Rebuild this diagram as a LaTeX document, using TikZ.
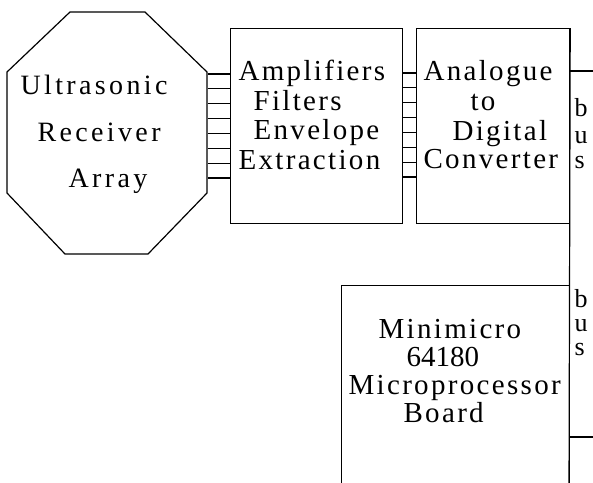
\documentclass[tikz,border=0pt]{standalone}
\usepackage{fontspec}
\newfontfamily\tw[LetterSpace=8]{Liberation Serif}
\newfontfamily\twwide[LetterSpace=12]{Liberation Serif}
\newfontfamily\twplain{Liberation Serif}
\begin{document}
\begin{tikzpicture}[x=1pt,y=-1pt,line width=1.2pt,
  box/.style={draw,inner sep=0pt,anchor=north west},
  txt/.style={anchor=base west,inner sep=0pt,font=\tw\fontsize{29}{32}\selectfont},
  numtxt/.style={anchor=base west,inner sep=0pt,font=\twplain\fontsize{29}{32}\selectfont},
  octtxt/.style={anchor=base west,inner sep=0pt,font=\twwide\fontsize{28}{32}\selectfont},
  bustxt/.style={anchor=base west,inner sep=0pt,font=\tw\fontsize{26}{28}\selectfont}]
\useasboundingbox (0,0) rectangle (593,482);
\clip (0,0) rectangle (593,482);
% receiver array (octagon)
\node[inner sep=0pt,minimum width=200pt,minimum height=242pt,anchor=north west] (recv) at (7,12) {};
\draw (70,12) -- (145,12) -- (207,72) -- (207,193) -- (148,254) -- (65,254) -- (7,193) -- (7,72) -- cycle;
% boxes
\node[box,minimum width=172pt,minimum height=195pt] (amp) at (230,28) {};
\node[box,minimum width=153pt,minimum height=195pt] (adc) at (416,28) {};
\node[box,minimum width=228pt,minimum height=230pt] (micro) at (341,285) {};
% connectors
\foreach \i in {0,...,7}{
  \coordinate (ca\i) at (0,{74+14.85*\i});
  \coordinate (cb\i) at (0,{73+14.85*\i});
  \draw (recv.east |- ca\i) -- (amp.west |- ca\i);
  \draw (amp.east |- cb\i) -- (adc.west |- cb\i);
}
% bus
\coordinate (busbot) at (569,495);
\coordinate (bustop) at (600,71);
\coordinate (buslow) at (600,437);
\draw (adc.north east) -- (busbot);
\draw (adc.east |- bustop) -- (bustop);
\draw (adc.east |- buslow) -- (buslow);
% texts
\node[octtxt] (t1) at (20,94) {Ultrasonic};
\node[octtxt] (t2) at (37,141) {Receiver};
\node[octtxt] (t3) at (68,187) {Array};
\node[txt] (a1) at (238,80) {Amplifiers};
\node[txt] (a2) at (253,110) {Filters};
\node[txt] (a3) at (253,139) {Envelope};
\node[txt] (a4) at (238,169) {Extraction};
\node[txt] (d1) at (423,80) {Analogue};
\node[txt] (d2) at (470,110) {to};
\node[txt] (d3) at (452,140) {Digital};
\node[txt] (d4) at (423,168) {Converter};
\node[txt] (m1) at (378,338) {Minimicro};
\node[numtxt] (m2) at (406,366) {64180};
\node[txt] (m3) at (348,394) {Microprocessor};
\node[txt] (m4) at (403,422) {Board};
\node[bustxt] (b1) at (574,116) {b};
\node[bustxt] (b2) at (574,143) {u};
\node[bustxt] (b3) at (574,168) {s};
\node[bustxt] (b4) at (574,307) {b};
\node[bustxt] (b5) at (574,331) {u};
\node[bustxt] (b6) at (574,355) {s};
\end{tikzpicture}
\end{document}
